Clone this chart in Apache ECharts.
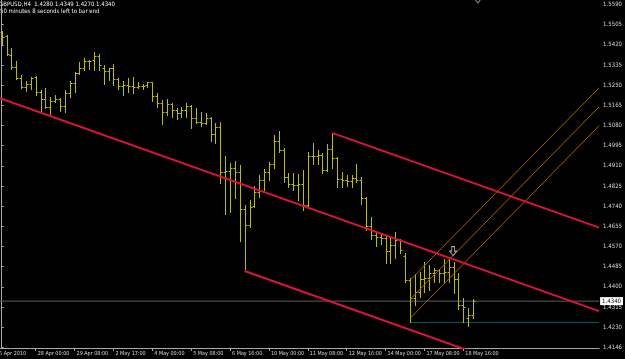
<!DOCTYPE html>
<html><head><meta charset="utf-8">
<script src="https://cdn.jsdelivr.net/npm/echarts@6/dist/echarts.min.js"></script>
<style>html,body{margin:0;padding:0;background:#000;}#c{width:625px;height:359px;}</style>
</head><body><div id="c"></div>
<script>
// OHLC of GBPUSD H4 bars (bar index = position in array)
const opens  = [1.5474,1.5457,1.5377,1.5327,1.5280,1.5242,1.5255,1.5285,1.5221,1.5192,
                1.5158,1.5183,1.5192,1.5162,1.5217,1.5259,1.5301,1.5322,1.5352,1.5356,
                1.5373,1.5322,1.5310,1.5322,1.5276,1.5247,1.5251,1.5247,1.5242,1.5247,
                1.5251,1.5263,1.5204,1.5175,1.5137,1.5171,1.5145,1.5133,1.5145,1.5162,
                1.5112,1.5095,1.5091,1.5112,1.5044,1.5074,1.4884,1.4888,1.4901,1.4884,
                1.4728,1.4661,1.4741,1.4800,1.4850,1.4884,1.4918,1.5015,1.4977,1.4863,
                1.4834,1.4829,1.4834,1.4745,1.4952,1.4952,1.4956,1.4893,1.4981,1.4943,
                1.4855,1.4850,1.4846,1.4859,1.4850,1.4775,1.4657,1.4619,1.4610,1.4606,
                1.4551,1.4577,1.4598,1.4530,1.4429,1.4353,1.4378,1.4433,1.4437,1.4459,
                1.4471,1.4459,1.4463,1.4484,1.4433,1.4324,1.4269,1.4280];
const highs  = [1.5478,1.5461,1.5407,1.5352,1.5293,1.5268,1.5285,1.5289,1.5230,1.5238,
                1.5200,1.5209,1.5196,1.5230,1.5268,1.5306,1.5348,1.5365,1.5356,1.5390,
                1.5381,1.5335,1.5322,1.5339,1.5280,1.5268,1.5280,1.5285,1.5263,1.5255,
                1.5263,1.5263,1.5217,1.5188,1.5192,1.5175,1.5154,1.5158,1.5175,1.5166,
                1.5154,1.5137,1.5133,1.5116,1.5091,1.5095,1.4952,1.4922,1.4931,1.4914,
                1.4745,1.4766,1.4825,1.4872,1.4897,1.4926,1.5040,1.5057,1.4985,1.4880,
                1.4880,1.4876,1.4893,1.4969,1.5006,1.4977,1.4964,1.5002,1.5049,1.4948,
                1.4884,1.4872,1.4872,1.4918,1.4863,1.4779,1.4694,1.4627,1.4627,1.4614,
                1.4614,1.4631,1.4602,1.4543,1.4437,1.4454,1.4463,1.4505,1.4493,1.4480,
                1.4475,1.4518,1.4526,1.4505,1.4459,1.4353,1.4311,1.4349];
const lows   = [1.5424,1.5377,1.5318,1.5276,1.5238,1.5226,1.5234,1.5209,1.5141,1.5154,
                1.5120,1.5179,1.5141,1.5137,1.5200,1.5221,1.5297,1.5314,1.5318,1.5314,
                1.5314,1.5255,1.5272,1.5251,1.5234,1.5209,1.5221,1.5217,1.5238,1.5234,
                1.5242,1.5183,1.5158,1.5087,1.5124,1.5116,1.5108,1.5116,1.5116,1.5070,
                1.5091,1.5078,1.5087,1.5015,1.5006,1.4838,1.4707,1.4716,1.4775,1.4593,
                1.4467,1.4652,1.4737,1.4779,1.4808,1.4850,1.4901,1.4969,1.4842,1.4821,
                1.4808,1.4766,1.4724,1.4741,1.4918,1.4918,1.4880,1.4888,1.4901,1.4821,
                1.4821,1.4825,1.4821,1.4842,1.4749,1.4640,1.4602,1.4572,1.4581,1.4501,
                1.4501,1.4522,1.4543,1.4421,1.4252,1.4324,1.4357,1.4378,1.4387,1.4421,
                1.4421,1.4421,1.4421,1.4374,1.4307,1.4252,1.4235,1.4270];
const closes = [1.5453,1.5381,1.5327,1.5280,1.5242,1.5255,1.5280,1.5221,1.5192,1.5158,
                1.5183,1.5192,1.5162,1.5217,1.5259,1.5301,1.5322,1.5352,1.5354,1.5373,
                1.5335,1.5310,1.5322,1.5276,1.5247,1.5251,1.5247,1.5242,1.5247,1.5247,
                1.5263,1.5204,1.5175,1.5137,1.5171,1.5145,1.5133,1.5145,1.5162,1.5112,
                1.5095,1.5091,1.5112,1.5044,1.5074,1.4884,1.4888,1.4901,1.4884,1.4728,
                1.4661,1.4737,1.4800,1.4850,1.4884,1.4918,1.5015,1.4977,1.4863,1.4834,
                1.4829,1.4834,1.4745,1.4952,1.4952,1.4956,1.4893,1.4981,1.4943,1.4855,
                1.4850,1.4846,1.4859,1.4850,1.4775,1.4657,1.4619,1.4610,1.4606,1.4551,
                1.4577,1.4598,1.4556,1.4429,1.4353,1.4378,1.4433,1.4437,1.4459,1.4471,
                1.4459,1.4463,1.4484,1.4433,1.4324,1.4315,1.4280,1.4340];

// time axis labels (bar index where each label sits)
const timeLabelIdx = [7,15,23,31,39,47,55,63,71,79,87,95];
const timeLabels = ['28 Apr 00:00','29 Apr 08:00','2 May 17:00','4 May 00:00','5 May 08:00','6 May 16:00',
                    '10 May 00:00','11 May 08:00','12 May 16:00','14 May 00:00','17 May 08:00','18 May 16:00'];
const firstDateLabel = '25 Apr 2010';

// price axis labels
const priceTicks = [1.4146,1.4230,1.4315,1.4400,1.4485,1.4570,1.4655,1.4740,1.4825,1.4910,
                    1.4995,1.5080,1.5165,1.5250,1.5335,1.5420,1.5505,1.5590];

// drawn objects: [bar index, price]
const redLine1 = [[-0.35, 1.5195], [122.95, 1.4298]];
const redLine2 = [[68, 1.5049], [122.95, 1.4650]];
const redLine3 = [[50, 1.4467], [97, 1.4125]];
const orangeLine1 = [[84.17, 1.4430], [122.95, 1.5239]];
const orangeLine2 = [[84.17, 1.4350], [122.95, 1.5159]];
const orangeLine3 = [[84.17, 1.4270], [122.95, 1.5079]];
const tealLine = [[84.17, 1.4250], [122.95, 1.4250]];
const bidPrice = 1.4340;
const arrowMark = [[92.9, 1.4551]];
const topArrowMark = [[98.0, 1.5613]];

const titleText = 'GBPUSD,H4  1.4280 1.4349 1.4270 1.4340';
const commentText = '50 minutes 8 seconds left to bar end';

const FONT = '"Liberation Sans Narrow","DejaVu Sans Condensed","Liberation Sans",sans-serif';
const X_MIN = -0.35, X_MAX = 122.95, Y_MIN = 1.41425, Y_MAX = 1.5609;
const ARROW = 'path://M3,0 L7,0 L7,5 L10,5 L5,10 L0,5 L3,5 Z';

const ohlc = opens.map((o, i) => [i, o, highs[i], lows[i], closes[i]]);

function seg(data, color, width, z) {
  return { type: 'line', data: data, showSymbol: false, clip: true, silent: true, z: z || 3,
           lineStyle: { color: color, width: width }, animation: false };
}

const chart = echarts.init(document.getElementById('c'), null, { renderer: 'canvas' });
chart.setOption({
  backgroundColor: '#000000',
  animation: false,
  grid: { left: 0, right: 22, top: 0, bottom: 11, containLabel: false },
  xAxis: {
    type: 'value', min: X_MIN, max: X_MAX,
    splitLine: { show: false },
    axisLine: { show: true, lineStyle: { color: '#a8a8a8', width: 1 } },
    axisTick: { show: true, customValues: timeLabelIdx, length: 3, lineStyle: { color: '#a8a8a8' } },
    axisLabel: {
      show: true, customValues: timeLabelIdx, align: 'left', margin: 3, padding: [0, 0, 0, 2],
      color: '#d8d8d8', fontSize: 5.4, fontFamily: FONT,
      formatter: v => { const k = timeLabelIdx.indexOf(Math.round(v)); return k >= 0 ? timeLabels[k] : ''; }
    }
  },
  yAxis: {
    type: 'value', position: 'right', min: Y_MIN, max: Y_MAX, scale: true,
    splitLine: { show: false },
    axisLine: { show: true, lineStyle: { color: '#a8a8a8', width: 1 } },
    axisTick: { show: true, customValues: priceTicks, length: 2, lineStyle: { color: '#a8a8a8' } },
    axisLabel: { show: true, customValues: priceTicks, margin: 4, color: '#d8d8d8', fontSize: 6, fontFamily: FONT,
                 formatter: v => v.toFixed(4) }
  },
  graphic: [
    { type: 'text', x: -1, y: 1, style: { text: titleText, fill: '#f0f0f0', font: '6px ' + FONT } },
    { type: 'text', x: 0, y: 8, style: { text: commentText, fill: '#f0f0f0', font: '6px ' + FONT } },
    { type: 'text', x: -4, y: 351, style: { text: firstDateLabel, fill: '#d8d8d8', font: '5.4px ' + FONT } }
  ],
  series: [
    seg([[X_MIN, bidPrice], [X_MAX, bidPrice]], '#5a5e5e', 1, 1),
    Object.assign(seg([[X_MIN, bidPrice], [X_MAX, bidPrice]], 'rgba(0,0,0,0)', 1, 6), {
      endLabel: { show: true, formatter: () => bidPrice.toFixed(4), backgroundColor: '#ffffff', color: '#000000',
                  fontSize: 6, fontFamily: FONT, padding: [1, 2, 1, 2], distance: 1 }
    }),
    seg(tealLine, '#0a5a5a', 1, 1),
    {
      type: 'custom', data: ohlc, z: 2, animation: false, clip: true,
      encode: { x: 0, y: [1, 2, 3, 4] },
      renderItem: function (params, api) {
        const i = api.value(0);
        const o = api.coord([i, api.value(1)]);
        const h = api.coord([i, api.value(2)]);
        const l = api.coord([i, api.value(3)]);
        const c = api.coord([i, api.value(4)]);
        const x = Math.round(o[0]) + 0.5;
        const w = 2;
        const st = { stroke: '#bcbc00', lineWidth: 1 };
        return { type: 'group', children: [
          { type: 'line', shape: { x1: x, y1: Math.round(h[1]), x2: x, y2: Math.round(l[1]) + 1 }, style: st },
          { type: 'line', shape: { x1: x - w, y1: Math.round(o[1]) + 0.5, x2: x, y2: Math.round(o[1]) + 0.5 }, style: st },
          { type: 'line', shape: { x1: x, y1: Math.round(c[1]) + 0.5, x2: x + w, y2: Math.round(c[1]) + 0.5 }, style: st }
        ]};
      }
    },
    seg(orangeLine1, '#a86000', 1, 3),
    seg(orangeLine2, '#a86000', 1, 3),
    seg(orangeLine3, '#a86000', 1, 3),
    seg(redLine1, '#dc143c', 2, 4),
    seg(redLine2, '#dc143c', 2, 4),
    seg(redLine3, '#dc143c', 2, 4),
    {
      type: 'scatter', data: arrowMark, z: 5, silent: true, animation: false,
      symbol: ARROW, symbolSize: [7, 9],
      itemStyle: { color: 'rgba(0,0,0,0)', borderColor: '#d0d0d0', borderWidth: 1 }
    },
    {
      type: 'scatter', data: topArrowMark, z: 5, silent: true, animation: false, clip: false,
      symbol: ARROW, symbolSize: [6, 8],
      itemStyle: { color: 'rgba(0,0,0,0)', borderColor: '#a8b8d0', borderWidth: 1 }
    }
  ]
});
</script></body></html>
